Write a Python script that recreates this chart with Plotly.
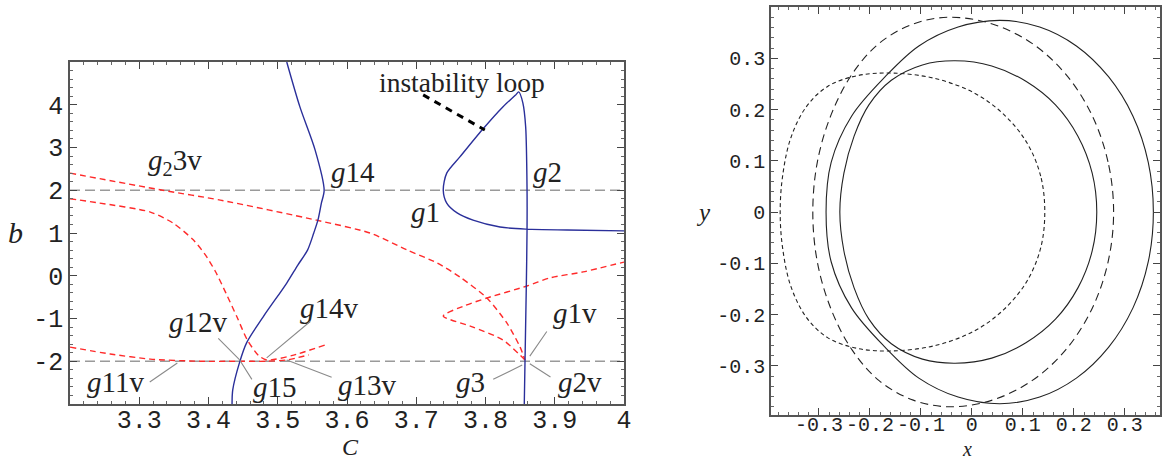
import plotly.graph_objects as go

# ---------------- left panel data (C, b) ----------------
g14_C = [3.513, 3.532, 3.554, 3.567, 3.563, 3.558, 3.552, 3.543, 3.529, 3.513, 3.479, 3.455, 3.445, 3.435, 3.434]
g14_b = [5.0, 3.95, 2.94, 2.0, 1.70, 1.30, 1.00, 0.60, 0.25, -0.17, -0.96, -1.57, -2.02, -2.67, -3.0]

g1_C = [4.0, 3.918, 3.860, 3.821, 3.782, 3.759, 3.744, 3.739, 3.744, 3.763, 3.795, 3.825, 3.843, 3.848,
        3.854, 3.858, 3.860, 3.860, 3.859, 3.856]
g1_b = [1.05, 1.07, 1.09, 1.14, 1.30, 1.47, 1.70, 2.0, 2.40, 2.78, 3.41, 3.95, 4.22, 4.30,
        4.04, 3.48, 2.0, 1.09, -0.17, -3.0]

redA_C = [3.2, 3.334, 3.417, 3.556, 3.633, 3.687, 3.730, 3.763, 3.802, 3.831, 3.850, 3.857]
redA_b = [2.40, 2.0, 1.77, 1.30, 1.0, 0.60, 0.30, -0.03, -0.52, -1.11, -1.67, -1.97]

fold_C = [3.857, 3.825, 3.782, 3.739, 3.770, 3.802, 3.860, 3.893, 3.941, 4.0]
fold_b = [-1.97, -1.50, -1.20, -0.94, -0.70, -0.52, -0.24, -0.05, 0.09, 0.32]

redB_C = [3.2, 3.243, 3.316, 3.349, 3.378, 3.395, 3.410, 3.425, 3.441, 3.456, 3.472, 3.484, 3.520, 3.568]
redB_b = [1.80, 1.70, 1.49, 1.23, 0.84, 0.50, 0.10, -0.40, -0.96, -1.50, -1.86, -1.97, -1.87, -1.62]

redC_C = [3.2, 3.258, 3.316, 3.388, 3.445, 3.484, 3.513, 3.545]
redC_b = [-1.67, -1.83, -1.95, -2.0, -2.0, -2.0, -1.97, -1.85]

ref_levels = [2.0, -2.0]
C_span = [3.2, 4.0]

loop_ptr_C = [3.710, 3.799]
loop_ptr_b = [4.23, 3.41]

C_ticks = [3.3, 3.4, 3.5, 3.6, 3.7, 3.8, 3.9, 4.0]
C_ticktext = ["3.3", "3.4", "3.5", "3.6", "3.7", "3.8", "3.9", "4"]
b_ticks = [-2, -1, 0, 1, 2, 3, 4]
b_ticktext = ["-2", "-1", "0", "1", "2", "3", "4"]

# labels: (text, C, b)
labels = [
    ("<i>g</i><sub>2</sub>3v", 3.352, 2.66),
    ("<i>g</i>14", 3.609, 2.43),
    ("<i>g</i>2", 3.890, 2.43),
    ("<i>g</i>1", 3.714, 1.49),
    ("<i>g</i>12v", 3.385, -1.08),
    ("<i>g</i>11v", 3.265, -2.49),
    ("<i>g</i>15", 3.496, -2.60),
    ("<i>g</i>14v", 3.575, -0.75),
    ("<i>g</i>13v", 3.630, -2.56),
    ("<i>g</i>1v", 3.929, -0.88),
    ("<i>g</i>3", 3.779, -2.49),
    ("<i>g</i>2v", 3.936, -2.49),
]
# pointer lines: (tail C, tail b, head C, head b)
pointers = [
    (3.313, -2.51, 3.355, -2.04),
    (3.412, -1.43, 3.445, -1.97),
    (3.464, -2.46, 3.445, -1.97),
    (3.549, -1.04, 3.484, -1.92),
    (3.580, -2.39, 3.513, -1.97),
    (3.890, -1.27, 3.864, -1.88),
    (3.809, -2.44, 3.853, -2.09),
    (3.896, -2.39, 3.864, -2.06),
]

# ---------------- right panel data (x, y) ----------------
S1_x = [0.356, 0.346, 0.316, 0.268, 0.205, 0.133, 0.055, -0.027, -0.104, -0.170, -0.236, -0.276, -0.286,
        -0.276, -0.236, -0.170, -0.104, -0.027, 0.055, 0.133, 0.205, 0.268, 0.316, 0.346, 0.356]
S1_y = [0.0, 0.097, 0.187, 0.264, 0.324, 0.361, 0.374, 0.361, 0.324, 0.264, 0.187, 0.097, 0.0,
        -0.097, -0.187, -0.264, -0.324, -0.361, -0.374, -0.361, -0.324, -0.264, -0.187, -0.097, 0.0]

S2_x = [0.245, 0.236, 0.208, 0.164, 0.106, 0.039, -0.033, -0.097, -0.158, -0.202, -0.231, -0.251, -0.259,
        -0.251, -0.231, -0.202, -0.158, -0.097, -0.033, 0.039, 0.106, 0.164, 0.208, 0.236, 0.245]
S2_y = [0.0, 0.076, 0.148, 0.209, 0.255, 0.285, 0.295, 0.287, 0.257, 0.209, 0.148, 0.076, 0.0,
        -0.076, -0.148, -0.209, -0.257, -0.287, -0.295, -0.285, -0.255, -0.209, -0.148, -0.076, 0.0]

D1_x = [0.278, 0.267, 0.235, 0.184, 0.118, 0.040, -0.043, -0.115, -0.182, -0.235, -0.276, -0.303, -0.312,
        -0.303, -0.276, -0.235, -0.182, -0.115, -0.043, 0.040, 0.118, 0.184, 0.235, 0.267, 0.278]
D1_y = [0.0, 0.098, 0.190, 0.269, 0.329, 0.367, 0.380, 0.367, 0.329, 0.269, 0.190, 0.098, 0.0,
        -0.098, -0.190, -0.269, -0.329, -0.367, -0.380, -0.367, -0.329, -0.269, -0.190, -0.098, 0.0]

D2_x = [0.143, 0.135, 0.108, 0.063, 0.005, -0.070, -0.155, -0.225, -0.283, -0.325, -0.355, -0.371, -0.376,
        -0.371, -0.355, -0.325, -0.283, -0.225, -0.155, -0.070, 0.005, 0.063, 0.108, 0.135, 0.143]
D2_y = [0.0, 0.070, 0.135, 0.190, 0.232, 0.260, 0.271, 0.266, 0.245, 0.205, 0.145, 0.072, 0.0,
        -0.072, -0.145, -0.205, -0.245, -0.266, -0.271, -0.260, -0.232, -0.190, -0.135, -0.070, 0.0]

xy_ticks = [-0.3, -0.2, -0.1, 0, 0.1, 0.2, 0.3]
xy_ticktext = ["-0.3", "-0.2", "-0.1", "0", "0.1", "0.2", "0.3"]

# ---------------- styles ----------------
BLUE = "#2a2f9a"
RED = "#ff2a2a"
GRAY = "#9a9a9a"
SERIF = "Liberation Serif"
MONO = "Liberation Mono"

fig = go.Figure()

for lv in ref_levels:
    fig.add_trace(go.Scatter(x=C_span, y=[lv, lv], mode="lines",
                             line=dict(color=GRAY, width=1.3, dash="10px,5px"),
                             xaxis="x", yaxis="y", hoverinfo="skip"))

for cx, cy in [(redA_C, redA_b), (fold_C, fold_b), (redB_C, redB_b), (redC_C, redC_b)]:
    fig.add_trace(go.Scatter(x=cx, y=cy, mode="lines",
                             line=dict(color=RED, width=1.4, dash="6px,4px", shape="spline", smoothing=0.7),
                             xaxis="x", yaxis="y"))

for cx, cy in [(g14_C, g14_b), (g1_C, g1_b)]:
    fig.add_trace(go.Scatter(x=cx, y=cy, mode="lines",
                             line=dict(color=BLUE, width=1.4, shape="spline", smoothing=0.8),
                             xaxis="x", yaxis="y"))

fig.add_trace(go.Scatter(x=loop_ptr_C, y=loop_ptr_b, mode="lines",
                         line=dict(color="black", width=3, dash="7px,6px"),
                         xaxis="x", yaxis="y"))

for cx, cy, dash in [(S1_x, S1_y, "solid"), (S2_x, S2_y, "solid"),
                     (D1_x, D1_y, "8px,5px"), (D2_x, D2_y, "4px,3px")]:
    fig.add_trace(go.Scatter(x=cx, y=cy, mode="lines",
                             line=dict(color="#222", width=1.1, dash=dash, shape="spline", smoothing=1.0),
                             xaxis="x2", yaxis="y2"))

annotations = []
for txt, cx, cy in labels:
    annotations.append(dict(x=cx, y=cy, xref="x", yref="y", text=txt, showarrow=False,
                            xanchor="center", yanchor="middle",
                            font=dict(family=SERIF, size=29, color="#222")))
annotations.append(dict(x=3.766, y=4.53, xref="x", yref="y", text="instability loop", showarrow=False,
                        xanchor="center", yanchor="middle",
                        font=dict(family=SERIF, size=27.5, color="#222")))
for tc, tb, hc, hb in pointers:
    annotations.append(dict(x=hc, y=hb, ax=tc, ay=tb, xref="x", yref="y", axref="x", ayref="y",
                            text="", showarrow=True, arrowhead=0, arrowwidth=1.1, arrowcolor="#8a8a8a",
                            standoff=0, startstandoff=0))

# axis titles
annotations += [
    dict(x=15 / 1162, y=1 - 232 / 460, xref="paper", yref="paper", text="<i>b</i>", showarrow=False,
         xanchor="center", yanchor="middle", font=dict(family=SERIF, size=30, color="#222")),
    dict(x=350 / 1162, y=1 - 447 / 460, xref="paper", yref="paper", text="<i>C</i>", showarrow=False,
         xanchor="center", yanchor="middle", font=dict(family=SERIF, size=24, color="#222")),
    dict(x=703 / 1162, y=1 - 212 / 460, xref="paper", yref="paper", text="<i>y</i>", showarrow=False,
         xanchor="center", yanchor="middle", font=dict(family=SERIF, size=25, color="#222")),
    dict(x=967 / 1162, y=1 - 449 / 460, xref="paper", yref="paper", text="<i>x</i>", showarrow=False,
         xanchor="center", yanchor="middle", font=dict(family=SERIF, size=20, color="#222")),
]

def axis_style(rng, tv, tt, minor_dt, domain, anchor, fsize, standoff=0):
    return dict(range=rng, tickvals=tv, ticktext=tt, domain=domain, anchor=anchor,
                ticks="inside", ticklen=7, tickwidth=1, tickcolor="#444",
                minor=dict(ticks="inside", ticklen=3.5, dtick=minor_dt, tickcolor="#666", tick0=0),
                showline=True, linecolor="#555", linewidth=1.5, mirror="allticks",
                showgrid=False, zeroline=False, automargin=False, tickangle=0,
                ticklabelstandoff=standoff,
                tickfont=dict(family=MONO, size=fsize, color="#222"))

fig.update_layout(
    width=1162, height=460,
    margin=dict(l=0, r=0, t=0, b=0),
    paper_bgcolor="white", plot_bgcolor="white",
    showlegend=False,
    xaxis=axis_style([3.2, 4.0], C_ticks, C_ticktext, 0.02, [70 / 1162, 624 / 1162], "y", 25, -8),
    yaxis=axis_style([-3, 5], b_ticks, b_ticktext, 0.2, [1 - 404 / 460, 1 - 62 / 460], "x", 25),
    xaxis2=axis_style([-0.394, 0.369], xy_ticks, xy_ticktext, 0.02, [771 / 1162, 1160 / 1162], "y2", 20, -10),
    yaxis2=axis_style([-0.396, 0.40], xy_ticks, xy_ticktext, 0.02, [1 - 415 / 460, 1 - 7 / 460], "x2", 20),
    annotations=annotations,
)

fig.write_html("out.html")
